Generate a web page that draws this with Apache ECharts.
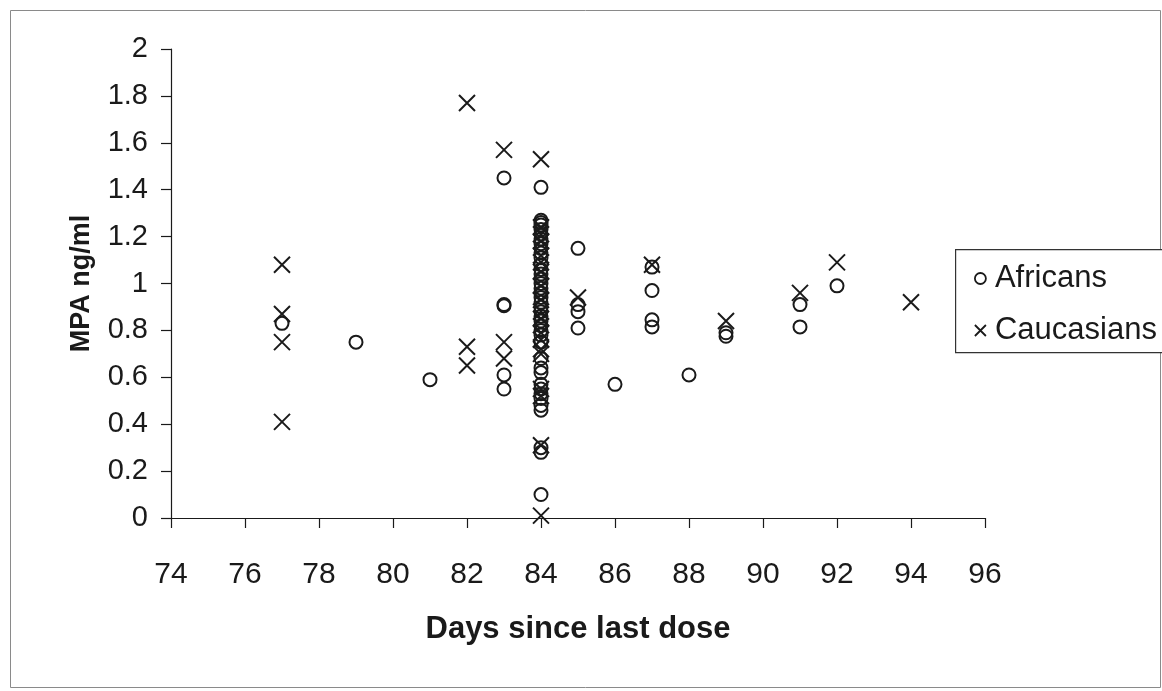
<!DOCTYPE html>
<html>
<head>
<meta charset="utf-8">
<title>MPA ng/ml vs days since last dose</title>
<script src="https://cdn.jsdelivr.net/npm/echarts@6/dist/echarts.min.js"></script>
<style>
  html, body { margin: 0; padding: 0; background: #fff; }
  #chart { width: 1162px; height: 691px; }
</style>
</head>
<body>
<div id="chart"></div>
<script>
// Days since last dose and MPA concentration (ng/ml) per subject
const africanDays = [
  77, 79, 81,
  83, 83, 83, 83, 83,
  84, 84, 84, 84, 84, 84, 84, 84, 84, 84, 84, 84, 84, 84, 84, 84, 84, 84, 84, 84,
  84, 84, 84, 84, 84, 84, 84, 84, 84, 84, 84, 84, 84, 84, 84, 84, 84, 84, 84, 84,
  85, 85, 85, 85,
  86,
  87, 87, 87, 87,
  88,
  89, 89,
  91, 91,
  92
];
const africanMPA = [
  0.83, 0.75, 0.59,
  1.45, 0.91, 0.905, 0.61, 0.55,
  1.41, 1.27, 1.26, 1.25, 1.23, 1.21, 1.19, 1.17, 1.15, 1.13, 1.11, 1.08, 1.06, 1.04, 1.02, 1.00, 0.98, 0.96, 0.94, 0.92,
  0.90, 0.88, 0.86, 0.84, 0.82, 0.80, 0.78, 0.75, 0.68, 0.64, 0.62, 0.57, 0.55, 0.53, 0.51, 0.48, 0.46, 0.30, 0.28, 0.10,
  1.15, 0.91, 0.88, 0.81,
  0.57,
  1.07, 0.97, 0.845, 0.815,
  0.61,
  0.79, 0.775,
  0.91, 0.815,
  0.99
];
const caucasianDays = [
  77, 77, 77, 77,
  82, 82, 82,
  83, 83, 83,
  84, 84, 84, 84, 84, 84, 84, 84, 84, 84, 84, 84, 84, 84, 84, 84, 84, 84, 84,
  85, 87, 89, 91, 92, 94
];
const caucasianMPA = [
  1.08, 0.87, 0.75, 0.41,
  1.77, 0.73, 0.65,
  1.57, 0.75, 0.68,
  1.53, 1.24, 1.21, 1.18, 1.12, 1.09, 1.05, 0.99, 0.93, 0.88, 0.85, 0.79, 0.76, 0.72, 0.70, 0.55, 0.52, 0.31, 0.01,
  0.94, 1.08, 0.84, 0.96, 1.09, 0.92
];

const xTicks = { min: 74, max: 96, step: 2 };
const yTicks = { min: 0, max: 2, step: 0.2 };

const pair = (xs, ys) => xs.map((x, i) => [x, ys[i]]);

const FONT = 'Liberation Sans, Arial, sans-serif';
const INK = '#1a1a1a';
const CROSS = 'path://M0,0L10,10M10,0L0,10';

const chart = echarts.init(document.getElementById('chart'), null, { renderer: 'canvas' });

chart.setOption({
  backgroundColor: '#ffffff',
  animation: false,
  grid: { left: 171, right: 177, top: 49, bottom: 173, containLabel: false },
  graphic: [
    // outer chart frame
    { type: 'rect', left: 8, top: 8, shape: { width: 1150, height: 677 },
      style: { fill: 'none', stroke: '#8a8a8a', lineWidth: 1 }, z: 0 },
    // legend frame, running off the right edge
    { type: 'rect', left: 955, top: 249, shape: { width: 230, height: 103 },
      style: { fill: '#fff', stroke: '#333', lineWidth: 1.2 }, z: 1 }
  ],
  legend: {
    orient: 'vertical',
    left: 969,
    top: 258,
    itemWidth: 11,
    itemHeight: 11,
    itemGap: 21,
    textStyle: { fontFamily: FONT, fontSize: 31, color: INK, padding: [0, 0, 0, 4] },
    data: [
      { name: 'Africans', icon: 'circle',
        itemStyle: { color: 'transparent', borderColor: INK, borderWidth: 1.8 } },
      { name: 'Caucasians', icon: CROSS,
        itemStyle: { color: 'transparent', borderColor: INK, borderWidth: 1.8 } }
    ],
    z: 5
  },
  xAxis: {
    type: 'value',
    min: xTicks.min,
    max: xTicks.max,
    interval: xTicks.step,
    name: 'Days since last dose',
    nameLocation: 'middle',
    nameGap: 96,
    nameTextStyle: { fontFamily: FONT, fontSize: 31, fontWeight: 'bold', color: INK },
    axisLine: { show: true, onZero: false, lineStyle: { color: INK, width: 1.2 } },
    axisTick: { show: true, inside: false, length: 10, lineStyle: { color: INK, width: 1.2 } },
    axisLabel: { fontFamily: FONT, fontSize: 30, color: INK, margin: 42 },
    splitLine: { show: false }
  },
  yAxis: {
    type: 'value',
    min: yTicks.min,
    max: yTicks.max,
    interval: yTicks.step,
    name: 'MPA ng/ml',
    nameLocation: 'middle',
    nameGap: 76,
    nameRotate: 90,
    nameTextStyle: { fontFamily: FONT, fontSize: 27, fontWeight: 'bold', color: INK },
    axisLine: { show: true, onZero: false, lineStyle: { color: INK, width: 1.2 } },
    axisTick: { show: true, inside: false, length: 10, lineStyle: { color: INK, width: 1.2 } },
    axisLabel: { fontFamily: FONT, fontSize: 29, color: INK, margin: 23 },
    splitLine: { show: false }
  },
  series: [
    {
      name: 'Africans',
      type: 'scatter',
      symbol: 'circle',
      symbolSize: 13,
      data: pair(africanDays, africanMPA),
      itemStyle: { color: 'transparent', borderColor: INK, borderWidth: 2, opacity: 1 },
      emphasis: { disabled: true },
      z: 3
    },
    {
      name: 'Caucasians',
      type: 'scatter',
      symbol: CROSS,
      symbolSize: 16,
      data: pair(caucasianDays, caucasianMPA),
      itemStyle: { color: 'transparent', borderColor: INK, borderWidth: 2, opacity: 1 },
      emphasis: { disabled: true },
      z: 3
    }
  ]
});
</script>
</body>
</html>
